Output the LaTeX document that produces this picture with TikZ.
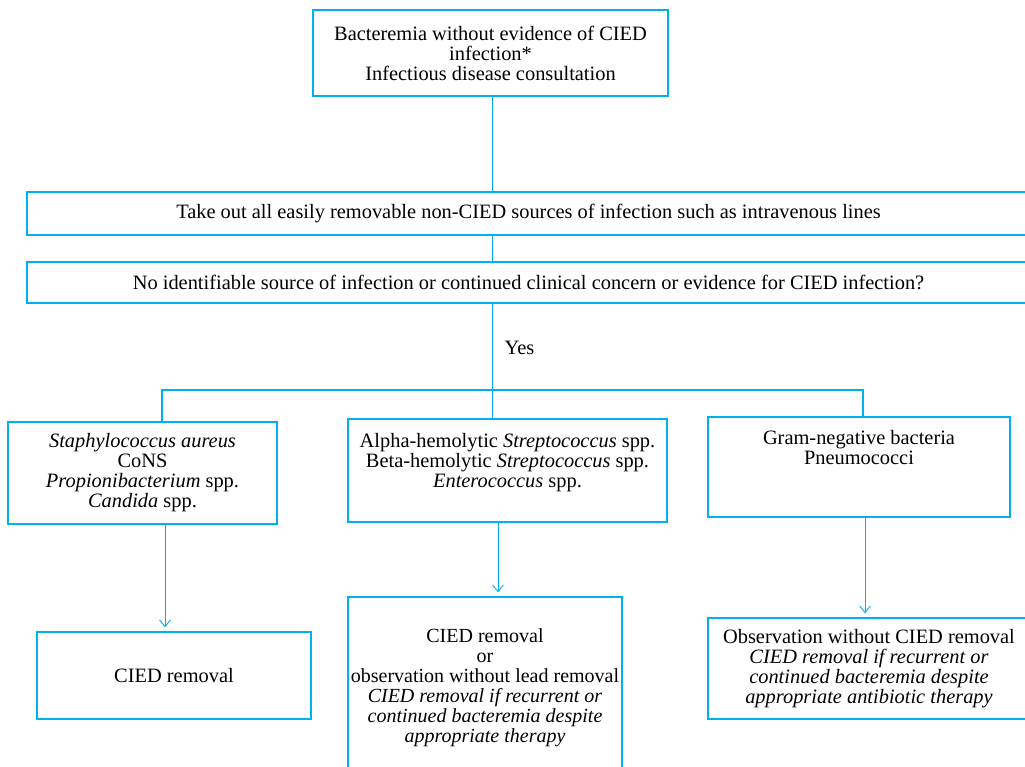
\documentclass[tikz,border=0pt]{standalone}
\usepackage{fontspec}
\setmainfont{Liberation Serif}
\usetikzlibrary{arrows.meta}
\definecolor{cyanline}{RGB}{0,176,240}

\begin{document}
\begin{tikzpicture}
    [x=0.75pt, y=-0.75pt,
    box/.style={draw=cyanline, line width=0.9pt, rectangle, align=center, inner sep=2pt, font=\fontsize{15.3}{15}\selectfont},
    link/.style={cyanline, line width=0.7pt},
    bar/.style={cyanline, line width=1pt},
    arrow/.style={cyanline, line width=0.7pt, -{Straight Barb[length=5pt,width=8pt]}, shorten >=3pt}]

    \useasboundingbox (0,0) rectangle (1025,767);

    \node[box, minimum width=266.25pt, minimum height=64.5pt] (bact) at (490.5,53) {Bacteremia without evidence of CIED\\ infection*\\ Infectious disease consultation};
    \node[box, minimum width=752.25pt, minimum height=32.25pt] (take) at (528.5,213.5) {Take out all easily removable non-CIED sources of infection such as intravenous lines};
    \node[box, minimum width=752.25pt, minimum height=30.75pt] (check) at (528.5,282.5) {No identifiable source of infection or continued clinical concern or evidence for CIED infection?};
    \node[font=\fontsize{15.3}{15}\selectfont, anchor=west] (yes) at (500,348) {Yes};

    \node[box, minimum width=201.75pt, minimum height=76.5pt] (staph) at (142.5,473) {\textit{Staphylococcus aureus}\\ CoNS\\ \textit{Propionibacterium} spp.\\ \textit{Candida} spp.};
    \node[box, minimum width=239.25pt, minimum height=77.25pt] (strep) at (507.5,470.5) {Alpha-hemolytic \textit{Streptococcus} spp.\\ Beta-hemolytic \textit{Streptococcus} spp.\\ \textit{Enterococcus} spp.\\ ~};
    \node[box, minimum width=226.5pt, minimum height=75pt] (gram) at (859,467) {Gram-negative bacteria\\ Pneumococci\\ ~\\ ~};

    \node[box, minimum width=205.5pt, minimum height=65.25pt] (remove) at (174,675.5) {CIED removal};
    \node[box, inner xsep=0pt, font=\fontsize{15}{15}\selectfont, minimum width=205.5pt, minimum height=136.5pt] (either) at (485,688) {CIED removal\\ or\\ observation without lead removal\\ \textit{CIED removal if recurrent or}\\ \textit{continued bacteremia despite}\\ \textit{appropriate therapy}};
    \node[box, minimum width=241.5pt, minimum height=75.75pt] (observe) at (869,668.5) {Observation without CIED removal\\ \textit{CIED removal if recurrent or}\\ \textit{continued bacteremia despite}\\ \textit{appropriate antibiotic therapy}};

    \coordinate (mid) at (492,390);
    \coordinate (barL) at (162,390);
    \coordinate (barR) at (863,390);
    \coordinate (xa) at (165,0);
    \coordinate (xb) at (498,0);
    \coordinate (xc) at (865,0);

    \draw[link] (bact.south -| mid) -- (take.north -| mid);
    \draw[link] (take.south -| mid) -- (check.north -| mid);
    \draw[link] (check.south -| mid) -- (mid);
    \draw[bar] (barL |- staph.north) -- (barL) -- (barR) -- (barR |- gram.north);
    \draw[link] (mid) -- (strep.north -| mid);

    \draw[arrow] (staph.south -| xa) -- (remove.north -| xa);
    \draw[arrow] (strep.south -| xb) -- (either.north -| xb);
    \draw[arrow] (gram.south -| xc) -- (observe.north -| xc);

\end{tikzpicture}
\end{document}
